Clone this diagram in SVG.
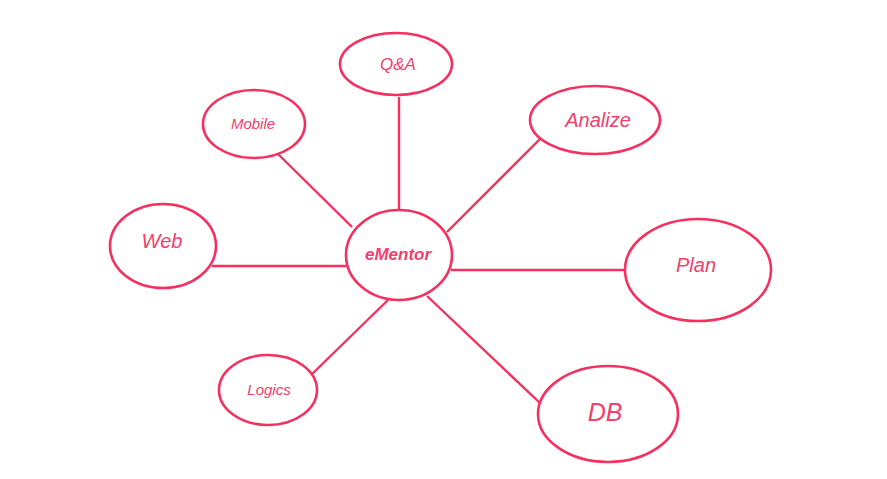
<svg xmlns="http://www.w3.org/2000/svg" width="887" height="479" viewBox="0 0 887 479">
<style>
.n{fill:#fff;stroke:#f5305f;stroke-width:2.6}
.c{stroke:#f5305f;stroke-width:2.4;fill:none}
text{font-family:"Liberation Sans",Arial,sans-serif;font-style:italic;fill:#f2406d;text-anchor:middle}
</style>
<rect width="887" height="479" fill="#fff"/>
<g id="connectors">
<line class="c" x1="399" y1="97" x2="399" y2="210"/>
<line class="c" x1="278" y1="154" x2="352" y2="227"/>
<line class="c" x1="540" y1="139" x2="447" y2="232"/>
<line class="c" x1="212" y1="266" x2="347" y2="266"/>
<line class="c" x1="451" y1="270" x2="626" y2="270"/>
<line class="c" x1="310" y1="376" x2="388" y2="300"/>
<line class="c" x1="427" y1="296" x2="541" y2="404"/>
</g>
<g id="eMentor"><ellipse class="n" cx="399" cy="255" rx="53" ry="45"/><text x="398" y="260" font-size="17" font-weight="bold">eMentor</text></g>
<g id="qa"><ellipse class="n" cx="396" cy="64" rx="56" ry="31"/><text x="398" y="70" font-size="17">Q&amp;A</text></g>
<g id="mobile"><ellipse class="n" cx="254" cy="124" rx="51" ry="34"/><text x="253" y="129" font-size="15">Mobile</text></g>
<g id="analize"><ellipse class="n" cx="595" cy="120" rx="65" ry="34"/><text x="598" y="127" font-size="20">Analize</text></g>
<g id="web"><ellipse class="n" cx="163" cy="246" rx="53" ry="42"/><text x="162" y="248" font-size="20">Web</text></g>
<g id="plan"><ellipse class="n" cx="698" cy="270" rx="73" ry="51"/><text x="696" y="272" font-size="20">Plan</text></g>
<g id="logics"><ellipse class="n" cx="268" cy="390" rx="49" ry="35"/><text x="269" y="395" font-size="15">Logics</text></g>
<g id="db"><ellipse class="n" cx="608" cy="414" rx="70" ry="48"/><text x="605" y="421" font-size="25">DB</text></g>
</svg>
